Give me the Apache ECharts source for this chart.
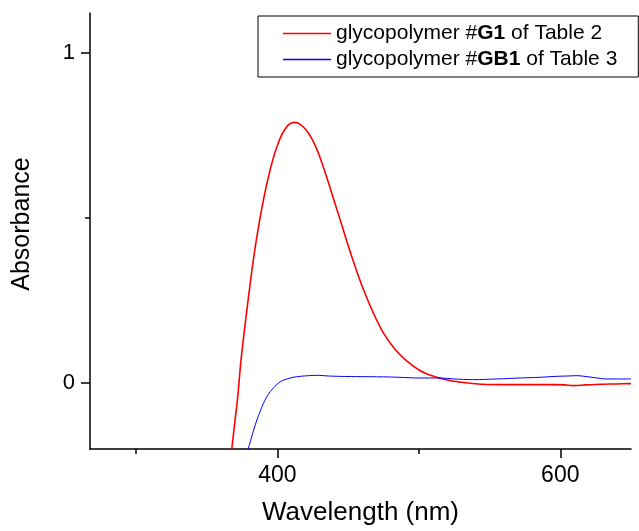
<!DOCTYPE html>
<html>
<head>
<meta charset="utf-8">
<script src="https://cdn.jsdelivr.net/npm/echarts@6/dist/echarts.min.js"></script>
<style>
    html, body { margin: 0; padding: 0; background: #fff; }
    #main { width: 639px; height: 531px; }
</style>
</head>
<body>
<div id="main"></div>
<script>
// series names (bold part kept separately for the legend)
var seriesNames = ['glycopolymer #G1 of Table 2', 'glycopolymer #GB1 of Table 3'];
var boldParts = ['G1', 'GB1'];
var seriesColors = ['#ff0000', '#0000ff'];

// glycopolymer G1 : [wavelength nm, absorbance]
var g1Data = [
    [366, -0.27], [368, -0.19], [370, -0.115], [372, -0.04], [374, 0.058],
    [376, 0.135], [378, 0.206], [380, 0.275], [382, 0.342], [384, 0.402],
    [386, 0.456], [388, 0.506], [390, 0.551], [392, 0.593], [394, 0.63],
    [396, 0.664], [398, 0.694], [400, 0.719], [402, 0.741], [404, 0.759],
    [406, 0.772], [408, 0.782], [410, 0.787], [411.8, 0.789], [414, 0.788],
    [416, 0.783], [418.4, 0.775], [421, 0.762], [424.3, 0.74], [427, 0.716],
    [430.2, 0.682], [434, 0.634], [437.3, 0.59], [440, 0.553], [444, 0.499],
    [449, 0.43], [455, 0.352], [460.9, 0.282], [467.9, 0.211], [475, 0.151],
    [483.3, 0.101], [491.6, 0.066], [501, 0.037], [510.4, 0.02], [517, 0.012],
    [524.6, 0.005], [530, 0.002], [536.4, -0.001], [545, -0.004], [560, -0.005],
    [580, -0.005], [595, -0.005], [603, -0.006], [609.5, -0.008], [618, -0.006],
    [628.4, -0.004], [640, -0.003], [650, -0.002]
];

// glycopolymer GB1
var gb1Data = [
    [377, -0.235], [379.1, -0.204], [381, -0.175], [383, -0.146], [385.5, -0.112],
    [387.8, -0.086], [390, -0.063], [392.5, -0.042], [395, -0.026], [397.2, -0.015],
    [399.5, -0.005], [401.9, 0.003], [404, 0.008], [406.7, 0.012], [411, 0.017],
    [416.1, 0.02], [422, 0.022], [429, 0.023], [436, 0.021], [443.2, 0.02],
    [460, 0.019], [480, 0.018], [501, 0.015], [515, 0.015], [525, 0.012],
    [538, 0.01], [555, 0.012], [572, 0.015], [585, 0.017], [597, 0.02],
    [605, 0.021], [612, 0.022], [619, 0.019], [626, 0.015], [632, 0.012],
    [640, 0.012], [650, 0.012]
];

// axis ticks
var xMajorTicks = [400, 600];
var xMinorTicks = [300, 500];
var yMajorTicks = [0, 1];
var yMinorTicks = [0.5];

var fontName = '"Liberation Sans", Arial, sans-serif';
var xMin = 267.5, xMax = 650;
var yMin = -0.2, yMax = 1.12;

var myChart = echarts.init(document.getElementById('main'), null, {renderer: 'canvas'});

function legendText(name) {
    var i = seriesNames.indexOf(name);
    var b = boldParts[i];
    var k = name.indexOf(b);
    return '{n|' + name.slice(0, k) + '}{b|' + b + '}{n|' + name.slice(k + b.length) + '}';
}

var legendData = seriesNames.map(function (n, i) {
    return {name: n, itemStyle: {color: seriesColors[i], borderWidth: 0}};
});

var option = {
    animation: false,
    backgroundColor: '#fff',
    grid: {
        left: 90,
        right: 8,
        top: 13,
        bottom: 79
    },
    legend: {
        orient: 'vertical',
        left: 258,
        top: 16,
        padding: [7, 21, 7, 25],
        itemGap: 5,
        itemWidth: 48,
        itemHeight: 1.5,
        icon: 'rect',
        borderColor: '#000',
        borderWidth: 1,
        data: legendData,
        formatter: legendText,
        textStyle: {
            color: '#000',
            fontFamily: fontName,
            fontSize: 21,
            rich: {
                n: {color: '#000', fontFamily: fontName, fontSize: 21},
                b: {color: '#000', fontFamily: fontName, fontSize: 21, fontWeight: 'bold'}
            }
        }
    },
    xAxis: [
        {
            type: 'value',
            min: xMin,
            max: xMax,
            position: 'bottom',
            name: 'Wavelength (nm)',
            nameLocation: 'middle',
            nameGap: 51,
            nameTextStyle: {color: '#000', fontFamily: fontName, fontSize: 26},
            splitLine: {show: false},
            axisLine: {onZero: false, lineStyle: {color: '#000', width: 1.5}},
            axisTick: {customValues: xMajorTicks, length: 9, lineStyle: {color: '#000', width: 1.5}},
            axisLabel: {customValues: xMajorTicks, margin: 15, color: '#000', fontFamily: fontName, fontSize: 23}
        },
        {
            // minor ticks only
            type: 'value',
            min: xMin,
            max: xMax,
            position: 'bottom',
            splitLine: {show: false},
            axisLine: {show: false, onZero: false},
            axisTick: {customValues: xMinorTicks, length: 5, lineStyle: {color: '#000', width: 1.5}},
            axisLabel: {show: false}
        }
    ],
    yAxis: [
        {
            type: 'value',
            min: yMin,
            max: yMax,
            position: 'left',
            name: 'Absorbance',
            nameLocation: 'middle',
            nameGap: 55,
            nameTextStyle: {color: '#000', fontFamily: fontName, fontSize: 25, padding: [0, 0, 0, 14]},
            splitLine: {show: false},
            axisLine: {show: true, onZero: false, lineStyle: {color: '#000', width: 1.5}},
            axisTick: {show: true, customValues: yMajorTicks, length: 9, lineStyle: {color: '#000', width: 1.5}},
            axisLabel: {customValues: yMajorTicks, margin: 15, color: '#000', fontFamily: fontName, fontSize: 22}
        },
        {
            type: 'value',
            min: yMin,
            max: yMax,
            position: 'left',
            splitLine: {show: false},
            axisLine: {show: false, onZero: false},
            axisTick: {show: true, customValues: yMinorTicks, length: 5, lineStyle: {color: '#000', width: 1.5}},
            axisLabel: {show: false}
        }
    ],
    series: [
        {
            name: seriesNames[0],
            type: 'line',
            xAxisIndex: 0,
            yAxisIndex: 0,
            data: g1Data,
            showSymbol: false,
            smooth: 0.3,
            clip: true,
            lineStyle: {color: seriesColors[0], width: 1.6},
            itemStyle: {color: seriesColors[0]}
        },
        {
            name: seriesNames[1],
            type: 'line',
            xAxisIndex: 0,
            yAxisIndex: 0,
            data: gb1Data,
            showSymbol: false,
            smooth: 0.3,
            clip: true,
            lineStyle: {color: seriesColors[1], width: 1},
            itemStyle: {color: seriesColors[1]}
        }
    ]
};

myChart.setOption(option);
</script>
</body>
</html>
